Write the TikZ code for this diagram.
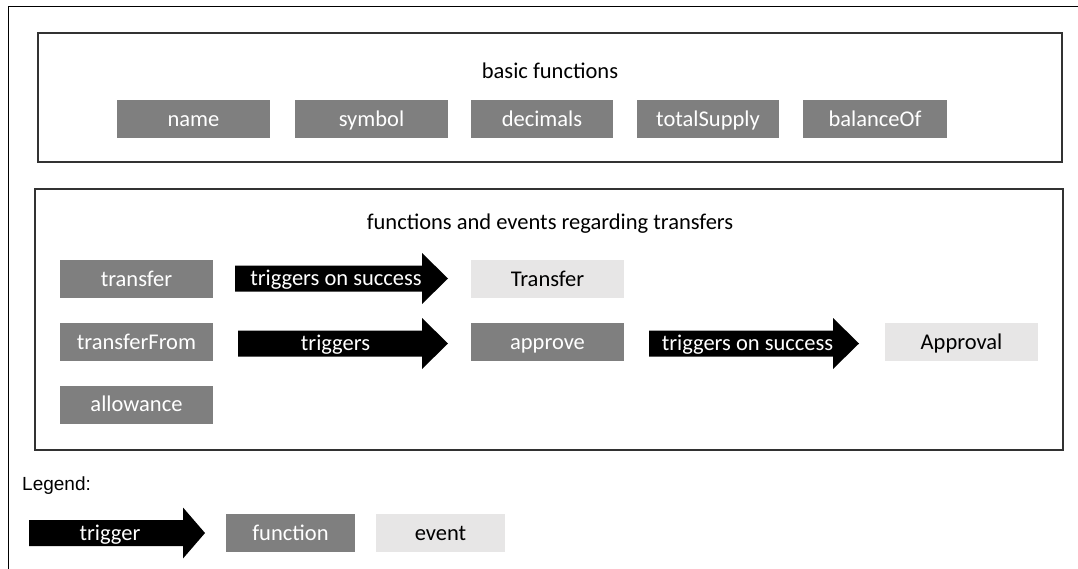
\documentclass[tikz,border=0pt]{standalone}
\usepackage{fontspec}
\setmainfont{Carlito}
\newfontfamily\legendfont{Liberation Sans}
\definecolor{funcgray}{RGB}{127,127,127}
\definecolor{eventgray}{RGB}{231,230,230}
\definecolor{framegray}{RGB}{50,50,50}

% a thick block arrow with its caption: name, left x, head start x, tip x, centre y, text x, text
\newcommand\trigarrow[7]{%
  \fill[black] (#2,#5-13) -- (#3,#5-13) -- (#3,#5-25.5) -- (#4,#5)
    -- (#3,#5+25.5) -- (#3,#5+13) -- (#2,#5+13) -- cycle;
  \node[arrowtext] (#1) at (#6,#5) {#7};}

\tikzset{
  label font/.style={font=\fontsize{22.5}{25}\selectfont, text height=17pt, text depth=3pt},
  funcbox/.style={label font, fill=funcgray, text=white, minimum height=38pt,
    inner sep=0pt, anchor=center},
  eventbox/.style={label font, fill=eventgray, text=black, minimum height=38pt,
    inner sep=0pt, anchor=center},
  arrowtext/.style={label font, text=white, inner sep=0pt},
  grouptitle/.style={label font, text=black, inner sep=0pt},
  groupframe/.style={draw=framegray, line width=1.5pt},
}

\begin{document}
\begin{tikzpicture}[x=1pt, y=-1pt]
\clip (0,0) rectangle (1078,568);
\fill[white] (0,0) rectangle (1078,568);

% page frame
\draw[black, line width=1pt] (8,600) -- (8,6) -- (1100,6);

% group of basic functions
\draw[groupframe] (38,33) rectangle (1062,162);
\node[grouptitle] (basictitle) at (550,71) {basic functions};
\node[funcbox, minimum width=153pt] (name) at (193.5,119) {name};
\node[funcbox, minimum width=153pt] (symbol) at (371.5,119) {symbol};
\node[funcbox, minimum width=142pt] (decimals) at (542,119) {decimals};
\node[funcbox, minimum width=142pt] (totalsupply) at (708,119) {totalSupply};
\node[funcbox, minimum width=144pt] (balanceof) at (875,119) {balanceOf};

% group of transfer functions and events
\draw[groupframe] (35,189) rectangle (1063,450);
\node[grouptitle] (transfertitle) at (550,222) {functions and events regarding transfers};
\node[funcbox, minimum width=153pt] (transfer) at (136.5,279) {transfer};
\node[funcbox, minimum width=153pt] (transferfrom) at (136.5,342) {transferFrom};
\node[funcbox, minimum width=153pt] (allowance) at (136.5,404.5) {allowance};
\trigarrow{trig1}{235}{422}{448}{278.5}{336}{triggers on success}
\node[eventbox, minimum width=153pt] (transferevt) at (547.5,279) {Transfer};
\trigarrow{trig2}{238}{422}{448}{343.5}{335.5}{triggers}
\node[funcbox, minimum width=153pt] (approve) at (547.5,342) {approve};
\trigarrow{trig3}{649}{833}{859}{343.5}{747.5}{triggers on success}
\node[eventbox, minimum width=153pt] (approval) at (961.5,342) {Approval};

% legend
\node[anchor=west, inner sep=0pt, font=\legendfont\fontsize{19}{22}\selectfont] (legend) at (22,486) {Legend:};
\trigarrow{trigkey}{29}{183}{205}{533}{110}{trigger}
\node[funcbox, minimum width=129pt] (funckey) at (290.5,533) {function};
\node[eventbox, minimum width=129pt] (eventkey) at (440.5,533) {event};
\end{tikzpicture}
\end{document}
